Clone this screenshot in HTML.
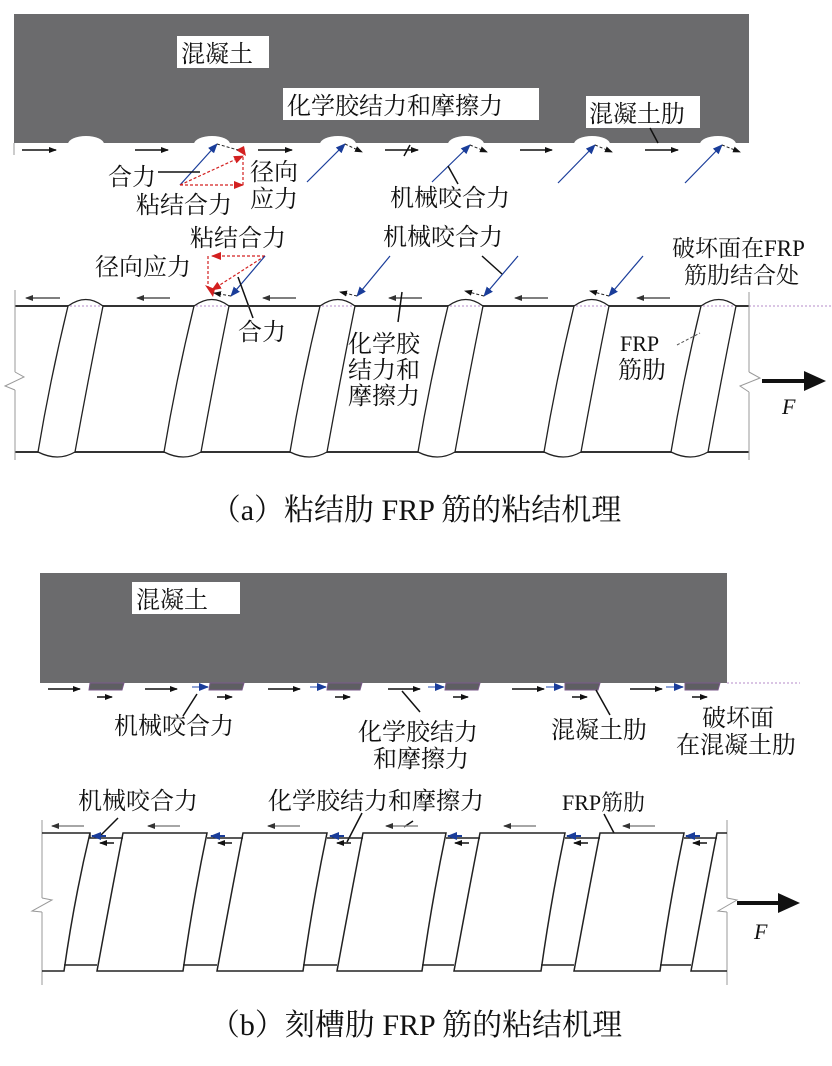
<!DOCTYPE html>
<html><head><meta charset="utf-8"><style>
body{margin:0;background:#fff;width:832px;height:1066px;overflow:hidden}
svg{display:block}
text{font-family:"Liberation Serif","Noto Serif CJK SC",serif;fill:#111}
</style></head><body>
<svg width="832" height="1066" viewBox="0 0 832 1066" xmlns="http://www.w3.org/2000/svg">
<defs>
<marker id="ak" markerWidth="8" markerHeight="8" refX="7" refY="4" orient="auto" markerUnits="userSpaceOnUse"><path d="M0,1 L8,4 L0,7z" fill="#111"/></marker>
<marker id="ab" markerWidth="10" markerHeight="10" refX="9" refY="5" orient="auto" markerUnits="userSpaceOnUse"><path d="M0,1 L10,5 L0,9z" fill="#1a3d9a"/></marker>
<marker id="ar" markerWidth="10" markerHeight="10" refX="9" refY="5" orient="auto" markerUnits="userSpaceOnUse"><path d="M0,1 L10,5 L0,9z" fill="#d32020"/></marker>
<marker id="ag" markerWidth="8" markerHeight="8" refX="7" refY="4" orient="auto" markerUnits="userSpaceOnUse"><path d="M0,1 L8,4 L0,7z" fill="#333"/></marker>
</defs>

<!-- ===== Panel (a) ===== -->
<rect x="14" y="14" width="735" height="129" fill="#6b6b6d"/>
<g fill="#fff">
<ellipse cx="86" cy="144" rx="18" ry="8"/><ellipse cx="212" cy="144" rx="18" ry="8"/><ellipse cx="338" cy="144" rx="18" ry="8"/><ellipse cx="466" cy="144" rx="18" ry="8"/><ellipse cx="592" cy="144" rx="18" ry="8"/><ellipse cx="718" cy="144" rx="18" ry="8"/>
</g>
<line x1="14" y1="143" x2="14" y2="155" stroke="#999"/>
<rect x="177" y="36" width="92" height="32" fill="#fff"/><text x="181" y="62" font-size="24">混凝土</text>
<rect x="283" y="88" width="256" height="32" fill="#fff"/><text x="287" y="114" font-size="24">化学胶结力和摩擦力</text>
<rect x="586" y="96" width="114" height="32" fill="#fff"/><text x="589" y="122" font-size="24">混凝土肋</text>
<line x1="650" y1="128" x2="658" y2="143" stroke="#111" stroke-width="1.5"/>
<line x1="410" y1="145" x2="404" y2="156" stroke="#111" stroke-width="1.5"/>
<g stroke="#111" stroke-width="1.5" marker-end="url(#ak)">
<line x1="22" y1="150" x2="56" y2="150"/><line x1="135" y1="150" x2="168" y2="150"/><line x1="258" y1="150" x2="292" y2="150"/><line x1="385" y1="150" x2="418" y2="150"/><line x1="520" y1="150" x2="552" y2="150"/><line x1="645" y1="150" x2="678" y2="150"/>
</g>
<g stroke="#1a3d9a" stroke-width="1.2" marker-end="url(#ab)">
<line x1="180" y1="185" x2="217" y2="144"/><line x1="307" y1="182" x2="345" y2="144"/><line x1="432" y1="182" x2="470" y2="145"/><line x1="558" y1="183" x2="595" y2="145"/><line x1="685" y1="183" x2="722" y2="145"/>
</g>
<g stroke="#222" stroke-dasharray="3,2" stroke-width="1" marker-end="url(#ak)">
<line x1="345" y1="144" x2="362" y2="152"/><line x1="470" y1="145" x2="487" y2="152"/><line x1="595" y1="145" x2="612" y2="152"/><line x1="722" y1="145" x2="740" y2="152"/>
</g>
<g stroke="#d32020" stroke-dasharray="3,2" stroke-width="1.2" fill="none">
<line x1="180" y1="185" x2="243" y2="156" marker-end="url(#ar)"/>
<line x1="180" y1="185" x2="243" y2="185" marker-end="url(#ar)"/>
<line x1="243" y1="185" x2="243" y2="156"/>
</g>
<path d="M236,150 l8,-4 l2,10z" fill="#d32020"/>
<line x1="217" y1="144" x2="238" y2="150" stroke="#222" stroke-dasharray="3,2"/>
<text x="108" y="185" font-size="24">合力</text><line x1="158" y1="172" x2="200" y2="172" stroke="#111" stroke-width="1.5"/>
<text x="136" y="213" font-size="24">粘结合力</text>
<text x="250" y="180" font-size="24">径向</text><text x="250" y="207" font-size="24">应力</text>
<text x="390" y="206" font-size="24">机械咬合力</text><line x1="458" y1="184" x2="448" y2="166" stroke="#111" stroke-width="1.5"/>

<text x="190" y="246" font-size="24">粘结合力</text>
<text x="95" y="275" font-size="24">径向应力</text>
<text x="383" y="245" font-size="24">机械咬合力</text>
<text x="672" y="256" font-size="23">破坏面在FRP</text>
<text x="684" y="283" font-size="23">筋肋结合处</text>
<g stroke="#d32020" stroke-dasharray="3,2" stroke-width="1.2">
<line x1="265" y1="256" x2="212" y2="256" marker-end="url(#ar)"/>
<line x1="208" y1="256" x2="208" y2="288"/>
<line x1="265" y1="256" x2="212" y2="290" marker-end="url(#ar)"/>
</g>
<path d="M205,285 l10,4 l-2,8z" fill="#d32020"/>
<g stroke="#1a3d9a" stroke-width="1.2" marker-end="url(#ab)">
<line x1="265" y1="256" x2="231" y2="296"/><line x1="518" y1="256" x2="484" y2="296"/><line x1="643" y1="256" x2="609" y2="296"/><line x1="390" y1="256" x2="357" y2="296"/>
</g>
<g stroke="#222" stroke-dasharray="3,2" marker-end="url(#ak)">
<line x1="231" y1="296" x2="214" y2="293"/><line x1="484" y1="296" x2="465" y2="291"/><line x1="609" y1="296" x2="590" y2="291"/><line x1="357" y1="296" x2="340" y2="292"/>
</g>
<line x1="238" y1="277" x2="253" y2="318" stroke="#111" stroke-width="1.5"/>
<text x="238" y="340" font-size="24">合力</text>
<line x1="482" y1="256" x2="502" y2="274" stroke="#111" stroke-width="1.5"/>
<g stroke="#333" stroke-width="1.2" marker-end="url(#ag)">
<line x1="60" y1="298" x2="26" y2="298"/><line x1="170" y1="298" x2="137" y2="298"/><line x1="296" y1="298" x2="263" y2="298"/><line x1="422" y1="298" x2="389" y2="298"/><line x1="548" y1="298" x2="515" y2="298"/><line x1="670" y1="298" x2="637" y2="298"/>
</g>
<line x1="15" y1="306" x2="749" y2="306" stroke="#333" stroke-width="2"/>
<line x1="15" y1="452" x2="749" y2="452" stroke="#333" stroke-width="2"/>
<line x1="749" y1="306" x2="832" y2="306" stroke="#b58bc8" stroke-dasharray="2,2"/>
<line x1="749" y1="292" x2="749" y2="372" stroke="#999"/><line x1="749" y1="392" x2="749" y2="460" stroke="#999"/>
<path d="M749,372 L760,378 L740,386 L749,392" fill="none" stroke="#999"/>
<line x1="15" y1="290" x2="15" y2="372" stroke="#999"/><line x1="15" y1="390" x2="15" y2="460" stroke="#999"/>
<path d="M15,372 L24,377 L5,386 L15,390" fill="none" stroke="#999"/>
<g fill="#fff" stroke="#222" stroke-width="1.3">
<path d="M68,306 Q86,293 103,306 Q88,380 75,452 Q58,462 38,452 Q50,380 68,306z"/>
<path d="M194,306 Q212,293 229,306 Q214,380 201,452 Q184,462 164,452 Q176,380 194,306z"/>
<path d="M320,306 Q338,293 355,306 Q340,380 327,452 Q310,462 290,452 Q302,380 320,306z"/>
<path d="M448,306 Q466,293 483,306 Q468,380 455,452 Q438,462 418,452 Q430,380 448,306z"/>
<path d="M574,306 Q592,293 609,306 Q594,380 581,452 Q564,462 544,452 Q556,380 574,306z"/>
<path d="M701,306 Q719,293 736,306 Q721,380 708,452 Q691,462 671,452 Q683,380 701,306z"/>
</g>
<g stroke="#b58bc8" stroke-dasharray="2,2">
<line x1="70" y1="306" x2="101" y2="306"/><line x1="196" y1="306" x2="227" y2="306"/><line x1="322" y1="306" x2="353" y2="306"/><line x1="450" y1="306" x2="481" y2="306"/><line x1="576" y1="306" x2="607" y2="306"/><line x1="703" y1="306" x2="734" y2="306"/>
</g>
<line x1="402" y1="292" x2="398" y2="322" stroke="#111" stroke-width="1.5"/>
<text x="348" y="352" font-size="24">化学胶</text><text x="348" y="378" font-size="24">结力和</text><text x="348" y="404" font-size="24">摩擦力</text>
<text x="620" y="351" font-size="22">FRP</text><text x="618" y="378" font-size="24">筋肋</text>
<line x1="677" y1="345" x2="700" y2="333" stroke="#555" stroke-dasharray="3,2"/>
<line x1="762" y1="381" x2="808" y2="381" stroke="#111" stroke-width="4"/><path d="M804,371 L826,381 L804,391z" fill="#111"/>
<text x="782" y="414" font-size="22" font-style="italic">F</text>
<text x="416" y="520" font-size="30" text-anchor="middle">（a）粘结肋 FRP 筋的粘结机理</text>

<!-- ===== Panel (b) ===== -->
<rect x="40" y="573" width="687" height="110" fill="#6b6b6d"/>
<rect x="132" y="582" width="108" height="32" fill="#fff"/><text x="136" y="608" font-size="24">混凝土</text>
<g fill="#5e5e62" stroke="#7a5a8a" stroke-width="1">
<path d="M90,683 h34 l-2,7 h-33z"/><path d="M210,683 h34 l-2,7 h-33z"/><path d="M328,683 h34 l-2,7 h-33z"/><path d="M446,683 h34 l-2,7 h-33z"/><path d="M565,683 h35 l-2,7 h-33z"/><path d="M685,683 h35 l-2,7 h-33z"/>
</g>
<line x1="727" y1="683" x2="800" y2="683" stroke="#b58bc8" stroke-dasharray="2,2"/>
<g stroke="#111" stroke-width="1.5" marker-end="url(#ak)">
<line x1="48" y1="689" x2="80" y2="689"/><line x1="145" y1="689" x2="177" y2="689"/><line x1="268" y1="689" x2="300" y2="689"/><line x1="388" y1="689" x2="420" y2="689"/><line x1="512" y1="689" x2="544" y2="689"/><line x1="630" y1="689" x2="662" y2="689"/>
<line x1="97" y1="697" x2="112" y2="697"/><line x1="217" y1="697" x2="232" y2="697"/><line x1="335" y1="697" x2="350" y2="697"/><line x1="453" y1="697" x2="468" y2="697"/><line x1="572" y1="697" x2="587" y2="697"/><line x1="692" y1="697" x2="707" y2="697"/>
</g>
<g stroke="#6a86c8" stroke-width="1.5" marker-end="url(#ab)">
<line x1="192" y1="687" x2="208" y2="687"/><line x1="310" y1="687" x2="326" y2="687"/><line x1="428" y1="687" x2="444" y2="687"/><line x1="546" y1="687" x2="563" y2="687"/><line x1="666" y1="687" x2="683" y2="687"/>
</g>
<line x1="197" y1="694" x2="183" y2="716" stroke="#111" stroke-width="1.5"/>
<text x="114" y="734" font-size="24">机械咬合力</text>
<line x1="402" y1="691" x2="420" y2="712" stroke="#111" stroke-width="1.5"/>
<text x="358" y="740" font-size="24">化学胶结力</text><text x="373" y="767" font-size="24">和摩擦力</text>
<line x1="596" y1="690" x2="610" y2="715" stroke="#111" stroke-width="1.5"/>
<text x="551" y="738" font-size="24">混凝土肋</text>
<text x="702" y="726" font-size="24">破坏面</text><text x="676" y="753" font-size="24">在混凝土肋</text>

<text x="78" y="809" font-size="24">机械咬合力</text>
<text x="268" y="809" font-size="24">化学胶结力和摩擦力</text>
<text x="562" y="810" font-size="22">FRP筋肋</text>
<line x1="118" y1="818" x2="100" y2="836" stroke="#111" stroke-width="1.5"/>
<line x1="362" y1="813" x2="347" y2="842" stroke="#111" stroke-width="1.5"/>
<line x1="413" y1="821" x2="404" y2="827" stroke="#111" stroke-width="1.5"/>
<line x1="604" y1="814" x2="614" y2="833" stroke="#111" stroke-width="1.5"/>
<g stroke="#888" stroke-width="1.5" marker-end="url(#ag)">
<line x1="84" y1="826" x2="52" y2="826"/><line x1="180" y1="826" x2="148" y2="826"/><line x1="300" y1="826" x2="268" y2="826"/><line x1="418" y1="826" x2="386" y2="826"/><line x1="536" y1="826" x2="504" y2="826"/><line x1="655" y1="826" x2="623" y2="826"/>
</g>
<line x1="42" y1="820" x2="42" y2="898" stroke="#999"/><line x1="42" y1="912" x2="42" y2="985" stroke="#999"/>
<path d="M42,898 L52,900 L32,911 L42,912" fill="none" stroke="#999"/>
<line x1="727" y1="820" x2="727" y2="898" stroke="#999"/><line x1="727" y1="912" x2="727" y2="985" stroke="#999"/>
<path d="M727,898 L737,900 L718,911 L727,912" fill="none" stroke="#999"/>
<g fill="none" stroke="#222" stroke-width="1.5">
<path d="M42,833 H90 V838 H123"/>
<path d="M90,833 Q74,900 64,971 H42"/>
<path d="M64,965 H97"/>
<path d="M123,833 H207 Q193,900 183,971 H97 Q110,900 123,833Z"/>
<path d="M207,838 H243 M183,965 H217"/>
<path d="M243,833 H327 Q313,900 303,971 H217 Q230,900 243,833Z"/>
<path d="M327,838 H363 M303,965 H337"/>
<path d="M363,833 H446 Q432,900 422,971 H337 Q350,900 363,833Z"/>
<path d="M446,838 H480 M422,965 H454"/>
<path d="M480,833 H565 Q551,900 541,971 H454 Q467,900 480,833Z"/>
<path d="M565,838 H600 M541,965 H574"/>
<path d="M600,833 H684 Q670,900 660,971 H574 Q587,900 600,833Z"/>
<path d="M684,838 H717 M660,965 H691"/>
<path d="M727,833 H717 Q704,900 691,971 H727"/>
</g>
<g stroke="#111" stroke-width="1.5" marker-end="url(#ak)">
<line x1="114" y1="843" x2="100" y2="843"/><line x1="232" y1="843" x2="218" y2="843"/><line x1="351" y1="843" x2="337" y2="843"/><line x1="469" y1="843" x2="455" y2="843"/><line x1="588" y1="843" x2="574" y2="843"/><line x1="707" y1="843" x2="693" y2="843"/>
</g>
<g stroke="#1a3d9a" stroke-width="2" marker-end="url(#ab)">
<line x1="106" y1="836" x2="92" y2="836"/><line x1="225" y1="836" x2="211" y2="836"/><line x1="344" y1="836" x2="330" y2="836"/><line x1="462" y1="836" x2="448" y2="836"/><line x1="581" y1="836" x2="567" y2="836"/><line x1="700" y1="836" x2="686" y2="836"/>
</g>
<line x1="737" y1="903" x2="782" y2="903" stroke="#111" stroke-width="4"/><path d="M778,893 L800,903 L778,913z" fill="#111"/>
<text x="754" y="939" font-size="22" font-style="italic">F</text>
<text x="416" y="1035" font-size="30" text-anchor="middle">（b）刻槽肋 FRP 筋的粘结机理</text>
</svg>
</body></html>
